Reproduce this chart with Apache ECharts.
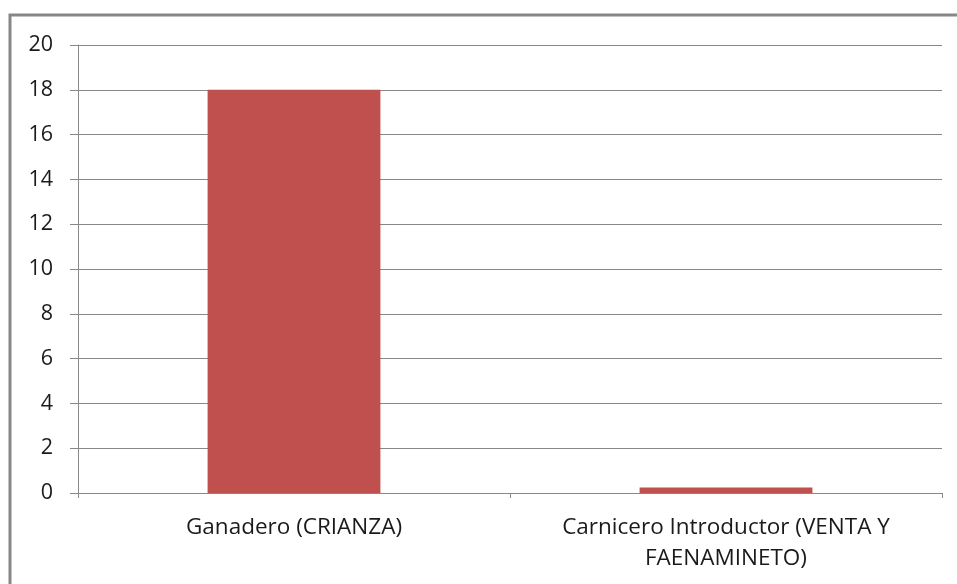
<!DOCTYPE html>
<html>
<head>
<meta charset="utf-8">
<script src="https://cdn.jsdelivr.net/npm/echarts@6/dist/echarts.min.js"></script>
<style>
  html, body { margin: 0; padding: 0; background: #fff; }
  #chart { width: 957px; height: 584px; }
</style>
</head>
<body>
<div id="chart"></div>
<script>
// Categories and values
const categories = ['Ganadero (CRIANZA)', 'Carnicero Introductor (VENTA Y\nFAENAMINETO)'];
const values = [18, 0.25];
const yTicks = { min: 0, max: 20, interval: 2 };

const chart = echarts.init(document.getElementById('chart'));
const font = '"Open Sans", "Liberation Sans", sans-serif';

chart.setOption({
  animation: false,
  backgroundColor: '#fff',
  graphic: [
    {
      // outer frame (top and left edges)
      type: 'polyline',
      shape: { points: [[10, 600], [10, 15], [960, 15]] },
      style: { stroke: '#878787', lineWidth: 3, fill: null },
      silent: true
    }
  ],
  grid: { left: 78, right: 15, top: 45, bottom: 91, containLabel: false },
  xAxis: {
    type: 'category',
    data: categories,
    axisLine: { lineStyle: { color: '#888', width: 1 } },
    axisTick: { show: true, length: 5, alignWithLabel: false, lineStyle: { color: '#888' } },
    axisLabel: { color: '#1a1a1a', fontFamily: font, fontSize: 22.5, margin: 19, lineHeight: 31, interval: 0 }
  },
  yAxis: {
    type: 'value',
    min: yTicks.min,
    max: yTicks.max,
    interval: yTicks.interval,
    axisLine: { show: true, lineStyle: { color: '#888', width: 1 } },
    axisTick: { show: true, length: 8, lineStyle: { color: '#888' } },
    axisLabel: { color: '#1a1a1a', fontFamily: font, fontSize: 21.5, margin: 25 },
    splitLine: { show: true, lineStyle: { color: '#888', width: 1 } }
  },
  series: [
    {
      type: 'bar',
      data: values,
      barWidth: '40%',
      itemStyle: { color: '#C0504D' }
    }
  ]
});
</script>
</body>
</html>
